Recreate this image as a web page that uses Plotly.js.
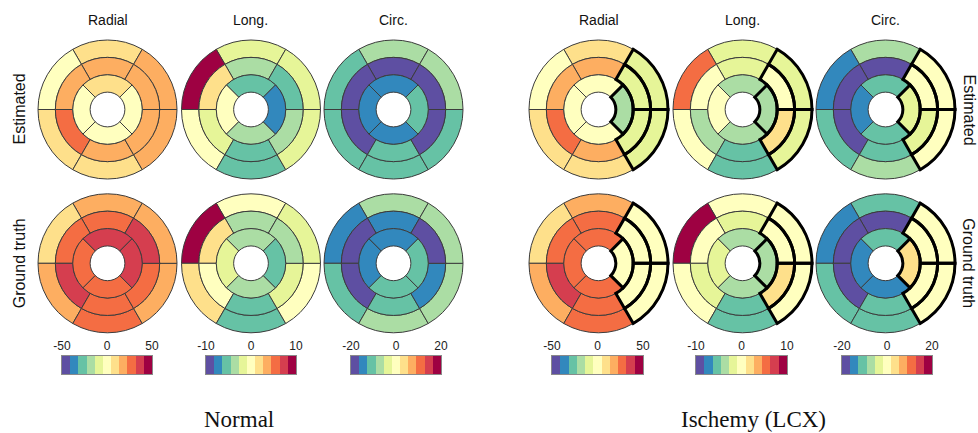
<!DOCTYPE html>
<html><head><meta charset="utf-8">
<script src="https://cdn.plot.ly/plotly-3.0.1.min.js"></script>
<style>html,body{margin:0;padding:0;background:#fff}#chart{width:978px;height:433px}</style>
</head><body><div id="chart"></div>
<script>
// ---- colour map (Spectral, 11 classes) ----
const spectral = ['#5e4fa2','#3288bd','#66c2a5','#abdda4','#e6f598','#ffffbf','#fee08b','#fdae61','#f46d43','#d53e4f','#9e0142'];
// ---- labels ----
const strainTypes = ['Radial','Long.','Circ.'];
const strainLimits = [50,10,20];
const colorbarTickVals = [[-50,0,50],[-10,0,10],[-20,0,20]];
const colorbarTickText = [['-50','0','50'],['-10','0','10'],['-20','0','20']];
const groups = ['Normal','Ischemy (LCX)'];
const rowLabels = ['Estimated','Ground truth'];

// ---- segment values: basal ring (6, from top going counter-clockwise), mid ring (6), apical ring (4) ----
const normalRadialEst  = [9, 2, 8, 10, 17, 18,   19, 18, 27, 18, 17, 19,   8, 1, 2, 0];
const normalLongEst    = [-1.8, 9.2, 0.2, -5.4, -1.6, -2.0,   -3.5, 1.9, -1.9, -5.6, -3.7, -5.2,   -5.3, 0.3, -3.4, -7.1];
const normalCircEst    = [-7.5, -11, -10.8, -11.2, -10.5, -7.0,   -18.5, -19, -18.2, -11.1, -18.8, -18.6,   -14.5, -15, -14.8, -11];
const normalRadialGT   = [18, 10, 17, 26, 18, 19,   27, 28, 36, 28, 26, 35,   36, 29, 28, 37];
const normalLongGT     = [0.3, 9.1, 1.8, -5.5, 0.1, -1.7,   -3.6, 1.9, -0.2, -5.3, -1.9, -3.5,   -3.7, -1.8, -3.4, -5.2];
const normalCircGT     = [-7.2, -14.6, -10.9, -7.5, -7.1, -7.4,   -14.8, -18.4, -18.9, -10.6, -15.1, -18.3,   -14.2, -15.3, -11.2, -10.7];
const ischemyRadialEst = [9, 1, 10, 8, -8, -9,   18, 19, 27, 17, -10, -8,   2, 0, 1, -18];
const ischemyLongEst   = [-1.9, 5.4, 0.2, -5.4, -1.8, -1.6,   -1.7, 0.4, -3.6, -5.6, 1.9, -0.1,   -3.5, 0.2, -3.8, -3.3];
const ischemyCircEst   = [-7.4, -14.7, -11, -7.2, 0.3, -0.4,   -18.6, -18.9, -18.3, -10.8, -3.5, 0.5,   -11.2, -15, -10.7, -3.7];
const ischemyRadialGT  = [18, 9, 17, 27, 0, -1,   28, 27, 36, 27, 1, 0,   27, 28, 26, -1];
const ischemyLongGT    = [0.2, 9.3, 0.1, -5.5, -0.2, 0.3,   -1.8, 0.3, -1.6, -5.3, 1.8, 0.1,   -3.6, -1.9, -3.4, -3.7];
const ischemyCircGT    = [-10.8, -14.8, -11, -11.3, 0.2, -0.3,   -18.8, -18.5, -18.7, -10.9, 0.4, 0.1,   -11.1, -14.6, -15.2, 3.7];
// LCX territory segments (outlined in bold on the ischemy maps)
const lcxSegments = [4, 5, 10, 11, 15];

// ---- bullseye geometry ----
const ringBase  = [3,3,3,3,3,3, 2,2,2,2,2,2, 1,1,1,1];
const segTheta  = [90,150,210,270,330,30, 90,150,210,270,330,30, 90,180,270,0];
const segWidth  = [60,60,60,60,60,60, 60,60,60,60,60,60, 90,90,90,90];

const W = 978, H = 433;
const colCx = [107.5, 251, 393.5, 598.5, 742.5, 885.5];
const rowCy = [109.5, 263.3];
const Rpx = 69.5, rMax = 4.12;
const cbX = [[62,152],[206,296],[351,441],[552,643],[696,787],[842,932]];
const cbY = [356, 374];

function stepScale(cols){const n=cols.length,s=[];cols.forEach((c,k)=>{s.push([k/n,c]);s.push([(k+1)/n,c]);});return s;}
const scale = stepScale(spectral);

const panelValues = [
  [[normalRadialEst, normalLongEst, normalCircEst],[normalRadialGT, normalLongGT, normalCircGT]],
  [[ischemyRadialEst, ischemyLongEst, ischemyCircEst],[ischemyRadialGT, ischemyLongGT, ischemyCircGT]]
];

const data = [];
const layout = {
  width: W, height: H, margin:{l:0,r:0,t:0,b:0},
  paper_bgcolor:'#fff', plot_bgcolor:'#fff', showlegend:false,
  font:{family:'Liberation Sans, Arial, sans-serif', color:'#111'},
  annotations: []
};

let p = 0;
for (let g=0; g<2; g++){
  for (let row=0; row<2; row++){
    for (let t=0; t<3; t++){
      p++;
      const pid = p===1 ? 'polar' : 'polar'+p;
      const cx = colCx[g*3+t], cy = rowCy[row];
      const Rd = Rpx*rMax/4;
      layout[pid] = {
        domain:{x:[(cx-Rd)/W,(cx+Rd)/W], y:[1-(cy+Rd)/H, 1-(cy-Rd)/H]},
        bgcolor:'rgba(0,0,0,0)', barmode:'overlay', hole:0,
        radialaxis:{visible:false, range:[0,rMax]},
        angularaxis:{visible:false, direction:'counterclockwise', rotation:0}
      };
      const lim = strainLimits[t];
      const vals = panelValues[g][row][t];
      data.push({
        type:'barpolar', subplot:pid,
        r: ringBase.map(()=>1), base: ringBase, theta: segTheta, width: segWidth,
        marker:{color: vals, colorscale: scale, cmin:-lim, cmax:lim, showscale:false,
                line:{color:'#3c3c3c', width:1}},
        hoverinfo:'skip'
      });
      if (g===1){
        data.push({
          type:'barpolar', subplot:pid,
          r: lcxSegments.map(()=>1), base: lcxSegments.map(i=>ringBase[i]),
          theta: lcxSegments.map(i=>segTheta[i]), width: lcxSegments.map(i=>segWidth[i]),
          marker:{color:'rgba(0,0,0,0)', line:{color:'#000', width:3}},
          hoverinfo:'skip'
        });
      }
    }
  }
  // column titles
  for (let t=0; t<3; t++){
    layout.annotations.push({text:strainTypes[t], x:colCx[g*3+t]/W, y:1-20.5/H, xref:'paper', yref:'paper',
      showarrow:false, xanchor:'center', yanchor:'middle', font:{size:14, color:'#111'}});
  }
  // group label
  layout.annotations.push({text:groups[g], x:(g===0?238.5:753.5)/W, y:1-419/H, xref:'paper', yref:'paper',
    showarrow:false, xanchor:'center', yanchor:'middle',
    font:{family:'Liberation Serif, Times New Roman, serif', size:23, color:'#111'}});
}
// row labels
for (let row=0; row<2; row++){
  layout.annotations.push({text:rowLabels[row], x:19/W, y:1-rowCy[row]/H, xref:'paper', yref:'paper',
    showarrow:false, textangle:-90, xanchor:'center', yanchor:'middle', font:{size:16, color:'#111'}});
  layout.annotations.push({text:rowLabels[row], x:969/W, y:1-rowCy[row]/H, xref:'paper', yref:'paper',
    showarrow:false, textangle:90, xanchor:'center', yanchor:'middle', font:{size:16, color:'#111'}});
}
// colour bars as heatmaps on their own axes
for (let k=0; k<6; k++){
  const t = k%3, lim = strainLimits[t], n = spectral.length, step = 2*lim/n;
  const centers = spectral.map((_,i)=>-lim+step*(i+0.5));
  const xa = k===0?'xaxis':'xaxis'+(k+1), ya = k===0?'yaxis':'yaxis'+(k+1);
  const xr = k===0?'x':'x'+(k+1), yr = k===0?'y':'y'+(k+1);
  data.push({type:'heatmap', xaxis:xr, yaxis:yr, x:centers, y:[0], z:[centers],
    colorscale:scale, zmin:-lim, zmax:lim, showscale:false, hoverinfo:'skip'});
  layout[xa] = {domain:[cbX[k][0]/W, cbX[k][1]/W], anchor:yr, side:'top', range:[-lim,lim],
    tickvals:colorbarTickVals[t], ticktext:colorbarTickText[t], ticks:'', showgrid:false, zeroline:false,
    showline:true, mirror:true, linecolor:'#8a8a8a', linewidth:1, fixedrange:true,
    tickfont:{size:12, color:'#222'}};
  layout[ya] = {domain:[1-cbY[1]/H, 1-cbY[0]/H], anchor:xr, range:[-0.5,0.5], showticklabels:false, ticks:'',
    showgrid:false, zeroline:false, showline:true, mirror:true, linecolor:'#8a8a8a', linewidth:1, fixedrange:true};
}

Plotly.newPlot('chart', data, layout, {staticPlot:true, displayModeBar:false});
</script>
</body></html>
